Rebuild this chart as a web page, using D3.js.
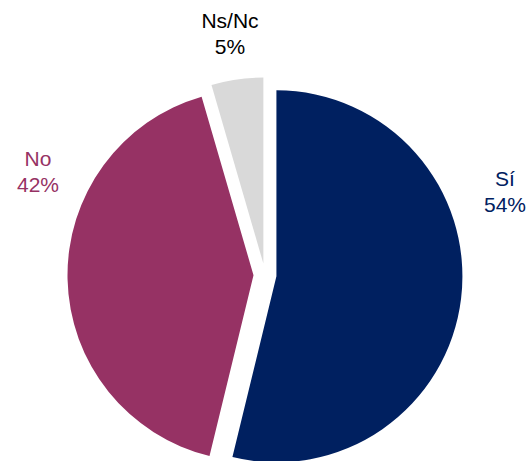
<!DOCTYPE html>
<html>
<head>
<meta charset="utf-8">
<script src="https://cdn.jsdelivr.net/npm/d3@7"></script>
<style>
  body { margin: 0; background: #fff; }
  text { font-family: "Liberation Sans", Arial, sans-serif; }
</style>
</head>
<body>
<div id="chart"></div>
<script>
const categories = ["Sí", "No", "Ns/Nc"];
const values = [53.8, 41.7, 4.5];
const pctLabels = ["54%", "42%", "5%"];
const colors = ["#002060", "#963264", "#d9d9d9"];
const labelColors = ["#002060", "#963264", "#000000"];

const width = 530, height = 461;
const cx = 265, cy = 275;
const radius = 186;
const explode = 11.5;

// label placement (centre x, first baseline y)
const labelPos = [[505, 186], [38, 166], [230, 28]];

let svg = d3.select("#chart")
    .append("svg")
    .attr("width", width)
    .attr("height", height);

let g = svg.append("g")
    .attr("transform", `translate(${cx}, ${cy})`);

let pie = d3.pie().sort(null).value(function(d) { return d; });
let arc = d3.arc().innerRadius(0).outerRadius(radius);

let arcs = pie(values);

g.selectAll("path")
    .data(arcs)
    .enter()
    .append("path")
    .attr("d", arc)
    .attr("fill", function(d, i) { return colors[i]; })
    .attr("transform", function(d) {
        let a = (d.startAngle + d.endAngle) / 2;
        return `translate(${Math.sin(a) * explode}, ${-Math.cos(a) * explode})`;
    });

let labels = svg.selectAll("text.lbl")
    .data(arcs)
    .enter()
    .append("text")
    .attr("class", "lbl")
    .attr("text-anchor", "middle")
    .style("font-size", "21px")
    .attr("fill", function(d, i) { return labelColors[i]; });

labels.append("tspan")
    .attr("x", function(d, i) { return labelPos[i][0]; })
    .attr("y", function(d, i) { return labelPos[i][1]; })
    .text(function(d, i) { return categories[i]; });

labels.append("tspan")
    .attr("x", function(d, i) { return labelPos[i][0]; })
    .attr("y", function(d, i) { return labelPos[i][1] + 26; })
    .text(function(d, i) { return pctLabels[i]; });
</script>
</body>
</html>
